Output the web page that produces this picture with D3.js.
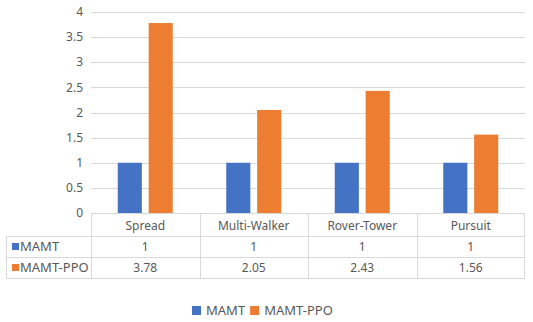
<!DOCTYPE html>
<html>
<head>
<meta charset="utf-8">
<script src="https://cdn.jsdelivr.net/npm/d3@7"></script>
<style>
  body { margin: 0; background: #fff; }
  text { font-family: "Noto Sans", sans-serif; fill: #595959; }
</style>
</head>
<body>
<div id="chart"></div>
<script>
// data
const categories = ["Spread", "Multi-Walker", "Rover-Tower", "Pursuit"];
const seriesNames = ["MAMT", "MAMT-PPO"];
const mamt = [1, 1, 1, 1];
const mamtPpo = [3.78, 2.05, 2.43, 1.56];
const yTicks = [0, 0.5, 1, 1.5, 2, 2.5, 3, 3.5, 4];
const colors = ["#4472C4", "#ED7D31"];

const width = 533, height = 322;
const plotLeft = 91, plotRight = 525, plotTop = 12, plotBottom = 213;
const rowH = [213, 236, 257, 278];
const tableLeft = 6;

const svg = d3.select("#chart").append("svg")
  .attr("width", width)
  .attr("height", height);

const y = d3.scaleLinear().domain([0, 4]).range([plotBottom, plotTop]);
const x0 = d3.scaleBand().domain(categories).range([plotLeft, plotRight]);
const cw = x0.bandwidth();
const x1 = d3.scaleBand().domain(seriesNames)
  .range([cw / 2 - 27.5, cw / 2 + 27.5]).paddingInner(0.22);

// gridlines
svg.append("g").selectAll("line").data(yTicks).enter().append("line")
  .attr("x1", plotLeft).attr("x2", plotRight)
  .attr("y1", d => Math.round(y(d)) + 0.5).attr("y2", d => Math.round(y(d)) + 0.5)
  .attr("stroke", "#d9d9d9");

// y labels
svg.append("g").selectAll("text").data(yTicks).enter().append("text")
  .attr("x", 83).attr("y", d => y(d))
  .attr("dy", "0.35em")
  .attr("text-anchor", "end")
  .style("font-size", "12px")
  .text(d => d);

// bars
const values = [mamt, mamtPpo];
seriesNames.forEach((s, si) => {
  svg.append("g").selectAll("rect").data(categories).enter().append("rect")
    .attr("x", d => x0(d) + x1(s))
    .attr("width", x1.bandwidth())
    .attr("y", (d, i) => y(values[si][i]))
    .attr("height", (d, i) => y(0) - y(values[si][i]))
    .attr("fill", colors[si]);
});

// data table
const grid = svg.append("g").attr("stroke", "#d9d9d9").attr("fill", "none");
grid.append("line").attr("x1", plotLeft).attr("x2", plotRight)
  .attr("y1", rowH[0] + 0.5).attr("y2", rowH[0] + 0.5);
[1, 2, 3].forEach(r => {
  grid.append("line").attr("x1", tableLeft).attr("x2", plotRight)
    .attr("y1", rowH[r] + 0.5).attr("y2", rowH[r] + 0.5);
});
grid.append("line").attr("x1", tableLeft + 0.5).attr("x2", tableLeft + 0.5)
  .attr("y1", rowH[1]).attr("y2", rowH[3]);
categories.forEach(c => {
  grid.append("line").attr("x1", Math.round(x0(c)) + 0.5).attr("x2", Math.round(x0(c)) + 0.5)
    .attr("y1", rowH[0]).attr("y2", rowH[3]);
});
grid.append("line").attr("x1", plotRight - 0.5).attr("x2", plotRight - 0.5)
  .attr("y1", rowH[0]).attr("y2", rowH[3]);

// header row
svg.append("g").selectAll("text").data(categories).enter().append("text")
  .attr("x", d => x0(d) + cw / 2)
  .attr("y", (rowH[0] + rowH[1]) / 2 + 1)
  .attr("dy", "0.35em")
  .attr("text-anchor", "middle")
  .style("font-size", "12px")
  .text(d => d);

// value rows
seriesNames.forEach((s, si) => {
  const cy = (rowH[si + 1] + rowH[si + 2]) / 2;
  svg.append("rect")
    .attr("x", 12).attr("y", cy - 3.5)
    .attr("width", 7).attr("height", 7)
    .attr("fill", colors[si]);
  svg.append("text")
    .attr("x", 20).attr("y", cy).attr("dy", "0.35em")
    .style("font-size", "13px")
    .text(s);
  svg.append("g").selectAll("text").data(categories).enter().append("text")
    .attr("x", d => x0(d) + cw / 2)
    .attr("y", cy).attr("dy", "0.35em")
    .attr("text-anchor", "middle")
    .style("font-size", "12px")
    .text((d, i) => values[si][i]);
});

// legend
const legend = svg.append("g").attr("transform", "translate(192,310.5)");
let lx = 0;
seriesNames.forEach((s, si) => {
  legend.append("rect").attr("x", lx).attr("y", -4.5)
    .attr("width", 9).attr("height", 9).attr("fill", colors[si]);
  const t = legend.append("text").attr("x", lx + 14).attr("y", 0).attr("dy", "0.35em")
    .style("font-size", "13px").text(s);
  lx += 14 + t.node().getComputedTextLength() + 5;
});
</script>
</body>
</html>
